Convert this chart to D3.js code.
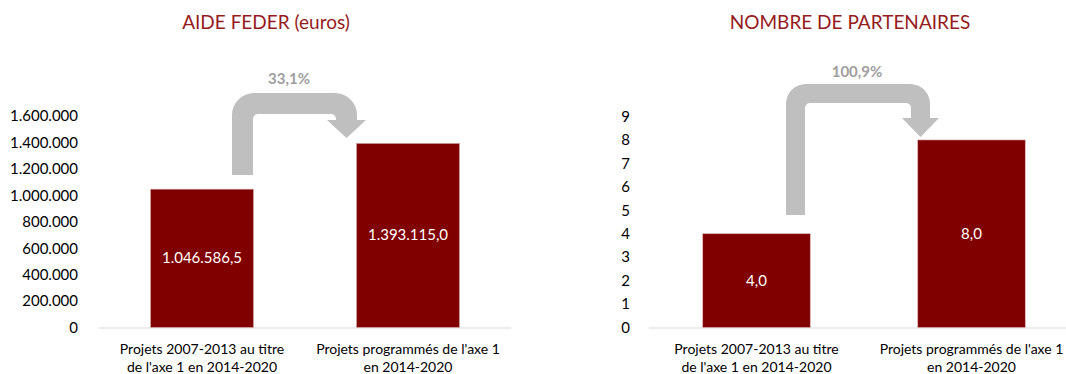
<!DOCTYPE html>
<html>
<head>
<meta charset="utf-8">
<script src="https://cdn.jsdelivr.net/npm/d3@7"></script>
<style>
  html, body { margin: 0; padding: 0; background: #fff; }
  svg { display: block; font-family: Lato, "Open Sans", sans-serif; }
</style>
</head>
<body>
<svg id="chart" width="1066" height="374"></svg>
<script>
// Categories shared by both panels
const categories = [
  ["Projets 2007-2013 au titre", "de l'axe 1 en 2014-2020"],
  ["Projets programmés de l'axe 1", "en 2014-2020"]
];

// Panel 1: ERDF aid (euros)
const aideTitle = "AIDE FEDER (euros)";
const aideValues = [1046586.5, 1393115.0];
const aideTicks = [0, 200000, 400000, 600000, 800000, 1000000, 1200000, 1400000, 1600000];
const aideChange = "33,1%";

// Panel 2: number of partners
const partTitle = "NOMBRE DE PARTENAIRES";
const partValues = [4.0, 8.0];
const partTicks = [0, 1, 2, 3, 4, 5, 6, 7, 8, 9];
const partChange = "100,9%";

const fr = d3.formatLocale({ decimal: ",", thousands: ".", grouping: [3], currency: ["", " €"] });
const fmtTick = fr.format(",d");
const fmtValue = fr.format(",.1f");

const BAR = "#800000";
const TITLE = "#951C1C";
const ARROW = "#BFBFBF";
const svg = d3.select("#chart");

function drawPanel(opt) {
  const g = svg.append("g");
  const x = d3.scaleBand()
    .domain(d3.range(opt.values.length))
    .range(opt.xRange)
    .paddingInner(0.5)
    .paddingOuter(0.25);
  const y = d3.scaleLinear().domain([0, d3.max(opt.ticks)]).range([327.5, opt.yTop]);

  // title
  g.append("text")
    .attr("x", opt.titleX).attr("y", 29)
    .attr("text-anchor", "middle")
    .attr("fill", TITLE)
    .style("font-size", "19px")
    .text(opt.title);

  // y axis (labels only)
  const ya = g.append("g")
    .attr("transform", `translate(${opt.xRange[0]},0)`)
    .call(d3.axisLeft(y).tickValues(opt.ticks).tickSize(0).tickPadding(opt.tickPad).tickFormat(opt.tickFmt));
  ya.select(".domain").remove();
  ya.selectAll("text")
    .attr("fill", "#000")
    .style("font-size", "15px")
    .style("font-family", "Lato, sans-serif");

  // baseline
  g.append("line")
    .attr("x1", opt.xRange[0]).attr("x2", opt.xRange[1])
    .attr("y1", y(0) + 0.5).attr("y2", y(0) + 0.5)
    .attr("stroke", "#D9D9D9").attr("stroke-width", 1);

  // bars
  g.selectAll("rect.bar")
    .data(opt.values)
    .join("rect")
    .attr("class", "bar")
    .attr("x", (d, i) => x(i))
    .attr("width", x.bandwidth())
    .attr("y", d => y(d))
    .attr("height", d => y(0) - y(d))
    .attr("fill", BAR)
    .attr("stroke", "#D8B0B0")
    .attr("stroke-width", 0.6);

  // value labels inside bars
  g.selectAll("text.val")
    .data(opt.values)
    .join("text")
    .attr("class", "val")
    .attr("x", (d, i) => x(i) + x.bandwidth() / 2)
    .attr("y", d => (y(d) + y(0)) / 2 + 5)
    .attr("text-anchor", "middle")
    .attr("fill", "#fff")
    .style("font-size", "15px")
    .text(d => fmtValue(d));

  // category labels
  const cl = g.selectAll("text.cat")
    .data(categories)
    .join("text")
    .attr("class", "cat")
    .attr("text-anchor", "middle")
    .attr("fill", "#000")
    .style("font-size", "14px");
  cl.each(function (lines, i) {
    const t = d3.select(this);
    lines.forEach((ln, k) => {
      t.append("tspan")
        .attr("x", x(i) + x.bandwidth() / 2)
        .attr("y", 354 + k * 18)
        .text(ln);
    });
  });

  // elbow arrow linking the two bars
  const a = opt.arrow;
  const p = d3.path();
  const xr = a.right, xi = a.right - a.th, yi = a.top + a.th;
  p.moveTo(a.left, a.bottom);
  p.lineTo(a.left, a.top + a.R);
  p.arcTo(a.left, a.top, a.left + a.R, a.top, a.R);
  p.lineTo(xr - a.R, a.top);
  p.arcTo(xr, a.top, xr, a.top + a.R, a.R);
  p.lineTo(xr, a.headY);
  const hc = xr - a.th / 2;
  p.lineTo(hc + a.headHalf, a.headY);
  p.lineTo(hc, a.tipY);
  p.lineTo(hc - a.headHalf, a.headY);
  p.lineTo(xi, a.headY);
  p.lineTo(xi, yi + a.r);
  p.arcTo(xi, yi, xi - a.r, yi, a.r);
  p.lineTo(a.left + a.th + a.r, yi);
  p.arcTo(a.left + a.th, yi, a.left + a.th, yi + a.r, a.r);
  p.lineTo(a.left + a.th, a.bottom);
  p.closePath();
  g.append("path").attr("d", p.toString()).attr("fill", ARROW);

  g.append("text")
    .attr("x", a.labelX).attr("y", a.labelY + 5)
    .attr("text-anchor", "middle")
    .attr("fill", "#9E9E9E")
    .style("font-size", "15px")
    .style("font-weight", "bold")
    .text(opt.change);
}

drawPanel({
  title: aideTitle, titleX: 266,
  values: aideValues, ticks: aideTicks, tickFmt: fmtTick, change: aideChange,
  xRange: [99, 511], yTop: 116, tickPad: 21,
  arrow: { left: 232, bottom: 175, top: 93, th: 21, right: 357, headY: 120, headHalf: 19.5, tipY: 138, R: 22, r: 5, labelX: 289, labelY: 79 }
});

drawPanel({
  title: partTitle, titleX: 850,
  values: partValues, ticks: partTicks, tickFmt: d3.format("d"), change: partChange,
  xRange: [649, 1079], yTop: 116.5, tickPad: 19,
  arrow: { left: 786, bottom: 215, top: 84, th: 19, right: 930, headY: 118, headHalf: 18.5, tipY: 137, R: 20, r: 5, labelX: 857, labelY: 72 }
});
</script>
</body>
</html>
